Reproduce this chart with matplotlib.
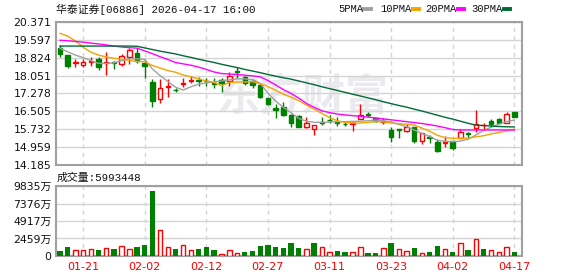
import matplotlib
matplotlib.use("Agg")
import matplotlib.pyplot as plt
import numpy as np

# ---------------- data ----------------
title = "华泰证券[06886] 2026-04-17 16:00"
vol_title = "成交量:5993448"
date_ticks = [3, 11, 19, 27, 35, 43, 51, 59]
date_labels = ["01-21", "02-02", "02-12", "02-27", "03-11", "03-23", "04-02", "04-17"]
price_ticks = [14.185, 14.959, 15.732, 16.505, 17.278, 18.051, 18.824, 19.597, 20.371]
vol_ticks = [0, 2459, 4917, 7376, 9835]
vol_tick_labels = ["0", "2459万", "4917万", "7376万", "9835万"]

opens = [19.26, 18.94, 18.58, 18.50, 18.64, 18.79, 18.60, 18.66, 18.54, 18.87,
         19.03, 18.61, 17.78, 17.03, 17.58, 17.44, 17.69, 17.84, 17.85, 17.84,
         17.75, 17.85, 17.82, 18.23, 18.00, 17.82, 17.65, 17.07, 16.63, 16.68,
         16.35, 16.31, 15.85, 15.73, 16.03, 16.15, 16.04, 15.98, 15.95, 16.17,
         16.39, 16.20, 16.06, 15.70, 15.73, 15.67, 15.84, 15.24, 15.41, 15.19,
         15.15, 15.24, 15.37, 15.57, 15.80, 15.90, 16.09, 16.17, 16.02, 16.49]
highs = [19.36, 18.95, 18.76, 18.76, 18.86, 18.87, 19.09, 18.68, 18.97, 19.26,
         19.26, 18.77, 17.91, 17.91, 17.91, 17.53, 17.93, 18.04, 17.98, 17.96,
         17.96, 17.93, 18.22, 18.44, 18.02, 17.89, 17.69, 17.10, 16.81, 16.93,
         16.39, 16.35, 16.25, 15.92, 16.28, 16.35, 16.28, 16.06, 16.03, 16.81,
         16.49, 16.20, 16.20, 15.85, 15.73, 15.94, 15.84, 15.56, 15.50, 15.31,
         15.45, 15.24, 15.73, 15.63, 16.56, 16.02, 16.17, 16.20, 16.46, 16.49]
lows = [18.84, 18.37, 18.44, 18.44, 18.47, 18.30, 18.08, 18.34, 18.48, 18.57,
        18.61, 17.93, 16.71, 16.85, 17.14, 17.33, 17.57, 17.75, 17.60, 17.62,
        17.53, 17.36, 17.62, 17.93, 17.65, 17.53, 17.10, 16.78, 16.20, 16.31,
        15.85, 15.82, 15.77, 15.48, 15.92, 15.99, 15.87, 15.87, 15.67, 16.17,
        16.28, 16.03, 15.94, 15.19, 15.37, 15.63, 15.12, 15.09, 15.15, 14.73,
        14.95, 14.83, 15.37, 15.37, 15.63, 15.70, 15.84, 15.99, 16.02, 16.28]
closes = [18.97, 18.48, 18.62, 18.64, 18.67, 18.44, 18.62, 18.58, 18.89, 19.17,
          18.68, 18.48, 16.97, 17.52, 17.62, 17.41, 17.73, 17.87, 17.81, 17.80,
          17.70, 17.72, 18.05, 18.20, 17.72, 17.65, 17.14, 16.81, 16.58, 16.35,
          16.02, 15.85, 16.02, 15.92, 15.99, 16.12, 16.00, 15.94, 16.00, 16.35,
          16.34, 16.09, 16.10, 15.41, 15.69, 15.84, 15.22, 15.56, 15.37, 14.79,
          15.18, 14.93, 15.63, 15.53, 15.94, 15.93, 15.96, 16.02, 16.39, 16.28]
volumes = [706, 1223, 800, 800, 940, 847, 1176, 940, 1459, 1035,
           1223, 1506, 9129, 3717, 1318, 940, 1600, 894, 940, 1223,
           800, 235, 800, 376, 518, 659, 1365, 1506, 1223, 1082,
           1835, 1082, 940, 1835, 1223, 518, 706, 565, 518, 1318,
           376, 376, 1082, 1835, 940, 659, 1082, 376, 565, 1365,
           940, 518, 1788, 847, 2447, 940, 800, 518, 1223, 599]

ma5 = [19.23, 19.08, 18.94, 18.83, 18.70, 18.58, 18.58, 18.60, 18.70, 18.78,
       18.78, 18.75, 18.34, 18.05, 17.80, 17.55, 17.43, 17.57, 17.68, 17.74,
       17.78, 17.82, 17.87, 17.91, 17.91, 17.88, 17.72, 17.30, 16.95, 16.68,
       16.45, 16.20, 16.08, 16.03, 16.03, 16.04, 16.06, 16.06, 16.07, 16.08,
       16.10, 16.13, 16.10, 16.05, 15.94, 15.85, 15.70, 15.55, 15.42, 15.25,
       15.21, 15.19, 15.22, 15.30, 15.48, 15.68, 15.82, 15.95, 16.06, 16.13]
ma10 = [19.88, 19.76, 19.55, 19.28, 19.07, 18.94, 18.86, 18.80, 18.76, 18.71,
        18.67, 18.65, 18.49, 18.38, 18.27, 18.20, 18.08, 18.00, 17.91, 17.82,
        17.76, 17.61, 17.76, 17.77, 17.78, 17.79, 17.70, 17.58, 17.42, 17.25,
        17.12, 16.97, 16.78, 16.60, 16.42, 16.24, 16.10, 16.03, 16.00, 16.00,
        16.03, 16.06, 16.05, 16.00, 15.97, 15.95, 15.91, 15.78, 15.65, 15.47,
        15.37, 15.34, 15.34, 15.35, 15.40, 15.45, 15.53, 15.59, 15.66, 15.73]
ma20 = [19.58, 19.56, 19.53, 19.50, 19.46, 19.42, 19.38, 19.33, 19.29, 19.26,
        19.24, 19.12, 19.00, 18.87, 18.75, 18.62, 18.56, 18.50, 18.42, 18.32,
        18.21, 18.14, 18.12, 18.10, 18.07, 18.04, 18.00, 17.84, 17.65, 17.45,
        17.28, 17.08, 16.85, 16.68, 16.53, 16.45, 16.39, 16.35, 16.32, 16.29,
        16.26, 16.22, 16.18, 16.14, 16.10, 16.06, 16.02, 15.98, 15.93, 15.87,
        15.80, 15.72, 15.70, 15.70, 15.70, 15.70, 15.70, 15.70, 15.70, 15.70]
ma30 = [19.33, 19.33, 19.33, 19.33, 19.33, 19.33, 19.33, 19.33, 19.33, 19.33,
        19.32, 19.25, 19.18, 19.11, 19.05, 18.99, 18.91, 18.84, 18.76, 18.69,
        18.62, 18.54, 18.47, 18.40, 18.32, 18.25, 18.18, 18.10, 18.03, 17.96,
        17.90, 17.82, 17.74, 17.66, 17.57, 17.49, 17.41, 17.33, 17.25, 17.17,
        17.09, 17.01, 16.92, 16.84, 16.76, 16.69, 16.60, 16.52, 16.43, 16.34,
        16.25, 16.17, 16.08, 15.99, 15.91, 15.89, 15.87, 15.85, 15.84, 15.83]

# ---------------- style ----------------
RED = "#ff0000"
GREEN = "#008000"
GRID = "#d4d4d4"
FRAME = "#a0a0a0"
MA_COLORS = ["#a0a0a0", "#f5a300", "#ff00ff", "#006a35"]
CJK = ["Noto Sans CJK SC", "DejaVu Sans"]
MONO_CJK = ["Liberation Mono", "Noto Sans CJK SC"]
NUM = ["DejaVu Sans", "Noto Sans CJK SC"]

W, H = 578, 276
fig = plt.figure(figsize=(W / 100, H / 100), dpi=100)
fig.patch.set_facecolor("white")


def px_axes(x0, y0, x1, y1):
    return fig.add_axes([x0 / W, 1 - y1 / H, (x1 - x0) / W, (y1 - y0) / H])


ax = px_axes(56, 22, 522, 165)
axv = px_axes(56, 186, 522, 256)

n = len(closes)
x = np.arange(n)
xlim = (-0.52, 60.0)

# watermark
ax.text(0.53, 0.47, "东方财富", transform=ax.transAxes, ha="center", va="center",
        fontsize=31, color="#ebebef", family=CJK, fontweight="bold", zorder=0)

# grid
for a in (ax, axv):
    a.set_xlim(*xlim)
    for t in date_ticks:
        a.axvline(t, color=GRID, lw=1, ls=(0, (3, 3)), zorder=1)
    for s in a.spines.values():
        s.set_color(FRAME)
        s.set_linewidth(1.5)
    a.set_facecolor("white")

for p in price_ticks:
    ax.axhline(p, color=GRID, lw=1, zorder=1)
for v in vol_ticks:
    axv.axhline(v, color=GRID, lw=1, zorder=1)

# candles
bw = 0.58
for i in range(n):
    o, h, l, c = opens[i], highs[i], lows[i], closes[i]
    up = c >= o
    col = RED if up else GREEN
    ax.vlines(i, l, h, color=col, lw=1, zorder=3)
    body_h = max(abs(c - o), 0.03)
    bottom = min(o, c)
    if abs(c - o) < 0.03:
        bottom = (o + c) / 2 - 0.015
    ax.bar(i, body_h, bottom=bottom, width=bw,
           facecolor="white" if up and abs(c - o) >= 0.06 else col,
           edgecolor=col, linewidth=1, zorder=4)

# moving averages
for ma, col in zip([ma5, ma10, ma20, ma30], MA_COLORS):
    ax.plot(x, ma, color=col, lw=1, zorder=5)

ax.set_ylim(price_ticks[0], price_ticks[-1])
ax.set_yticks(price_ticks)
ax.set_yticklabels([f"{p:.3f}" for p in price_ticks])
ax.set_xticks([])
ax.tick_params(axis="y", length=0, pad=3.2, labelsize=7.8, labelcolor="#111111")
for lab in ax.get_yticklabels():
    lab.set_family(NUM)

# volume bars
for i in range(n):
    prev = closes[i - 1] if i > 0 else opens[i]
    up = closes[i] >= prev
    if up:
        axv.bar(i, volumes[i], width=bw, facecolor="white", edgecolor=RED,
                linewidth=1, zorder=4)
    else:
        axv.bar(i, volumes[i], width=bw + 0.1, facecolor=GREEN, edgecolor=GREEN,
                linewidth=0, zorder=4)

axv.set_ylim(0, vol_ticks[-1])
axv.set_yticks(vol_ticks)
axv.set_yticklabels(vol_tick_labels)
axv.tick_params(axis="y", length=0, pad=3.2, labelsize=7.8, labelcolor="#111111")
for lab in axv.get_yticklabels():
    lab.set_family(NUM)
axv.set_xticks(date_ticks)
axv.set_xticklabels(date_labels)
axv.tick_params(axis="x", length=0, pad=4, labelsize=8.0, labelcolor=RED)
for lab in axv.get_xticklabels():
    lab.set_family(NUM)

# header texts
fig.text(56 / W, 1 - 9.5 / H, title, ha="left", va="center", fontsize=7.8,
         family=MONO_CJK, color="#111111")
fig.text(57 / W, 1 - 177.5 / H, vol_title, ha="left", va="center", fontsize=7.8,
         family=MONO_CJK, color="#111111")

legend_items = [("5PMA", 338), ("10PMA", 380), ("20PMA", 425), ("30PMA", 471)]
for (lab, x0), col in zip(legend_items, MA_COLORS):
    fig.text(x0 / W, 1 - 9.5 / H, lab, ha="left", va="center", fontsize=7.6,
             family=["Liberation Mono", "DejaVu Sans Mono"], color="#111111")
    xe = x0 + len(lab) * 6.1 + 2
    fig.add_artist(plt.Line2D([xe / W, (xe + 6.5) / W], [1 - 9 / H, 1 - 9 / H],
                              color=col, lw=2.8, transform=fig.transFigure))

fig.savefig("out.png", dpi=100, facecolor="white")
